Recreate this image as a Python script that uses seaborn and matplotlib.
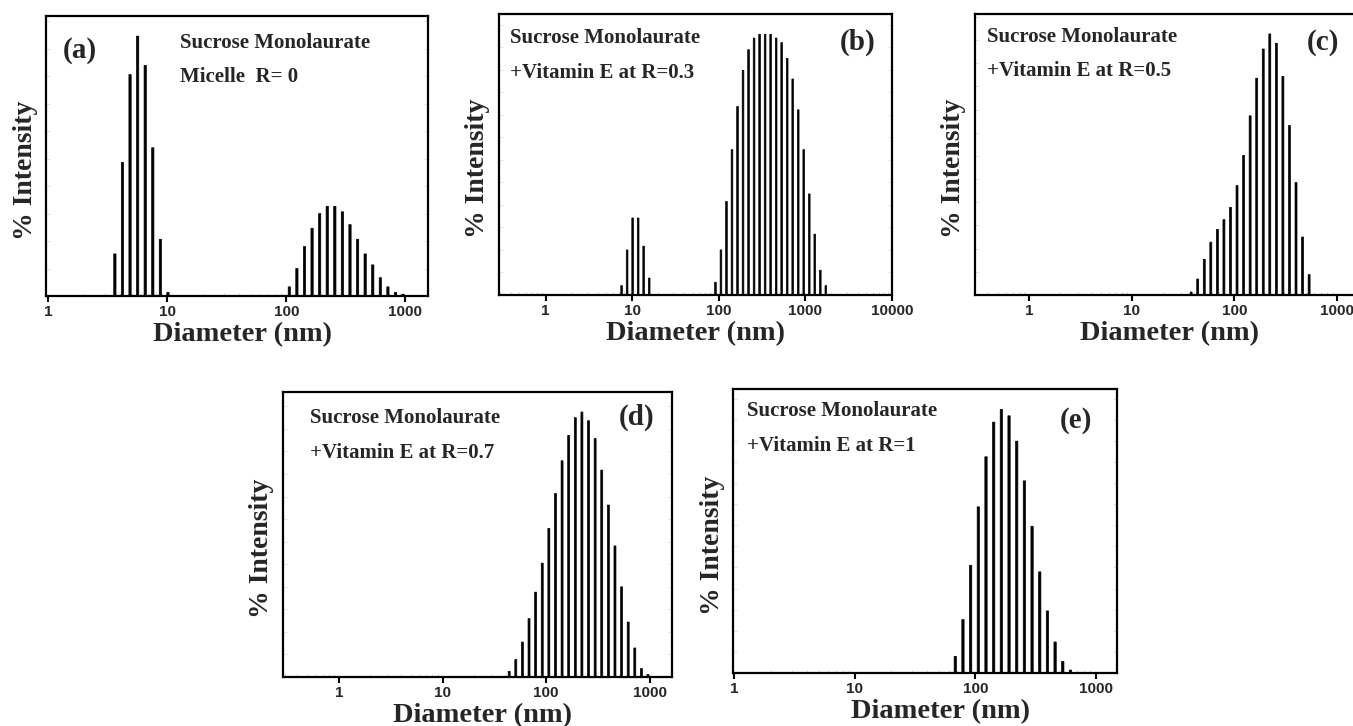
import numpy as np
import pandas as pd
import matplotlib
matplotlib.use("Agg")
import matplotlib.pyplot as plt
import matplotlib.ticker as mticker
import seaborn as sns

# ---------------- data ----------------
diam_a = [3.615, 4.187, 4.849, 5.615, 6.503, 7.531, 8.721, 10.10,
          105.7, 122.4, 141.8, 164.2, 190.1, 220.2, 255.0, 295.3, 342.0,
          396.1, 458.7, 531.2, 615.1, 712.4, 825.0, 955.4]
int_a = [2.3, 7.3, 12.1, 14.2, 12.6, 8.1, 3.1, 0.2,
         0.5, 1.5, 2.7, 3.7, 4.5, 4.9, 4.9, 4.6, 3.9,
         3.1, 2.3, 1.7, 1.0, 0.5, 0.2, 0.1]

diam_b = [7.531, 8.721, 10.10, 11.70, 13.54, 15.69,
          91.28, 105.7, 122.4, 141.8, 164.2, 190.1, 220.2, 255.0, 295.3,
          342.0, 396.1, 458.7, 531.2, 615.1, 712.4, 825.0, 955.4, 1106,
          1281, 1484, 1718]
int_b = [0.25, 1.2, 2.05, 2.05, 1.3, 0.45,
         0.34, 1.2, 2.49, 3.87, 5.02, 5.98, 6.53, 6.84, 6.94,
         6.94, 6.94, 6.84, 6.72, 6.30, 5.75, 4.93, 3.87, 2.69,
         1.62, 0.66, 0.25]

diam_c = [37.84, 43.82, 50.75, 58.77, 68.06, 78.82, 91.28, 105.7, 122.4,
          141.8, 164.2, 190.1, 220.2, 255.0, 295.3, 342.0, 396.1, 458.7,
          531.2]
int_c = [0.13, 0.69, 1.54, 2.28, 2.83, 3.25, 3.78, 4.72, 6.02,
         7.73, 9.35, 10.61, 11.26, 10.86, 9.43, 7.31, 4.85, 2.50,
         0.88]

diam_d = [43.82, 50.75, 58.77, 68.06, 78.82, 91.28, 105.7, 122.4, 141.8,
          164.2, 190.1, 220.2, 255.0, 295.3, 342.0, 396.1, 458.7, 531.2,
          615.1, 712.4, 825.0, 955.4]
int_d = [0.20, 0.62, 1.24, 2.07, 3.01, 4.04, 5.27, 6.51, 7.67,
         8.57, 9.20, 9.40, 9.09, 8.46, 7.34, 6.10, 4.65, 3.20,
         1.95, 1.03, 0.30, 0.09]

diam_e = [68.06, 78.82, 91.28, 105.7, 122.4, 141.8, 164.2, 190.1, 220.2,
          255.0, 295.3, 342.0, 396.1, 458.7, 531.2, 615.1]
int_e = [0.79, 2.53, 5.10, 7.87, 10.24, 11.88, 12.48, 12.18, 10.98,
         9.10, 6.95, 4.79, 2.94, 1.47, 0.55, 0.14]

panel_tags = ["(a)", "(b)", "(c)", "(d)", "(e)"]
line1 = ["Sucrose Monolaurate"] * 5
line2 = ["Micelle  R= 0", "+Vitamin E at R=0.3", "+Vitamin E at R=0.5",
         "+Vitamin E at R=0.7", "+Vitamin E at R=1"]
xtick_a = [1, 10, 100, 1000]
xtick_b = [1, 10, 100, 1000, 10000]
xlabel = "Diameter (nm)"
ylabel = "% Intensity"

# ---------------- layout / style ----------------
W, H = 1353, 726
sns.set_theme(style="white")
plt.rcParams["font.family"] = ["Liberation Serif", "DejaVu Serif"]
plt.rcParams["font.weight"] = "bold"

fig = plt.figure(figsize=(W / 100, H / 100), dpi=100)

# pixel rectangles: left, right, top, bottom
rects = [(46, 428, 16, 296), (499, 892, 14, 295), (975, 1365, 14, 295),
         (283, 672, 392, 677), (733, 1117, 389, 673)]
xlims = [(0.956, 1550), (0.29, 10000), (0.30, 1860), (0.29, 1630), (0.975, 1500)]
ymaxs = [15.3, 7.48, 12.12, 10.11, 13.45]
xticks = [xtick_a, xtick_b, xtick_a, xtick_a, xtick_a]
xlab_x = [0.514, 0.5, 0.5, 0.512, 0.54]
# text placement (axes fraction)
sub_xy = [(0.351, 0.886), (0.028, 0.897), (0.031, 0.90), (0.069, 0.891), (0.036, 0.905)]
sub_dy = [0.122, 0.125, 0.121, 0.123, 0.123]
tag_xy = [(0.045, 0.85, "left"), (0.957, 0.872, "right"), (0.933, 0.872, "right"),
          (0.954, 0.884, "right"), (0.935, 0.863, "right")]

datasets = [(diam_a, int_a), (diam_b, int_b), (diam_c, int_c),
            (diam_d, int_d), (diam_e, int_e)]

for i, ((d, v), (l, r, t, b)) in enumerate(zip(datasets, rects)):
    ax = fig.add_axes([l / W, (H - b) / H, (r - l) / W, (b - t) / H])
    df = pd.DataFrame({"d": d, "v": v})
    logd = np.log10(df["d"].to_numpy())
    step = np.median(np.diff(logd))
    nb = int(round((logd.max() - logd.min()) / step)) + 1
    edges = (logd.min() - step / 2 + step * np.arange(nb + 1)).tolist()
    sns.histplot(data=df, x="d", weights="v", bins=edges, log_scale=True,
                 shrink=0.3, color="black", alpha=1, linewidth=0.5,
                 edgecolor="black", element="bars", snap=False, ax=ax)
    ax.set_xscale("log")
    ax.set_xlim(*xlims[i])
    ax.set_ylim(0, ymaxs[i])
    ax.set_xticks(xticks[i])
    ax.xaxis.set_major_formatter(mticker.FuncFormatter(lambda x, p: f"{x:g}"))
    ax.xaxis.set_minor_locator(mticker.LogLocator(base=10, subs=np.arange(2, 10)))
    ax.xaxis.set_minor_formatter(mticker.NullFormatter())
    ax.yaxis.set_major_locator(mticker.MaxNLocator(14))
    ax.tick_params(axis="x", which="major", direction="out", length=4, width=1.5,
                   color="black", labelsize=11, pad=2.5, bottom=True)
    ax.tick_params(axis="x", which="minor", direction="in", length=2, width=0.6,
                   color="#c8c8c8", bottom=True)
    ax.tick_params(axis="y", which="major", direction="in", length=3, width=0.6,
                   color="#dddddd", left=True, right=True, labelleft=False)
    for lab in ax.get_xticklabels():
        lab.set_fontfamily(["Liberation Sans", "DejaVu Sans"])
        lab.set_fontweight("bold")
    for sp in ax.spines.values():
        sp.set_visible(True)
        sp.set_color("black")
        sp.set_linewidth(1.6)
    ax.set_xlabel(xlabel, fontsize=20.5, fontweight="bold")
    ax.set_ylabel(ylabel, fontsize=20, fontweight="bold")
    ax.xaxis.set_label_coords(xlab_x[i], -0.093)
    ax.yaxis.set_label_coords(-0.022, 0.45)
    ax.xaxis.label.set_va("top")
    sx, sy = sub_xy[i]
    ax.text(sx, sy, line1[i], transform=ax.transAxes, fontsize=15,
            fontweight="bold", ha="left", va="baseline")
    ax.text(sx, sy - sub_dy[i], line2[i], transform=ax.transAxes, fontsize=15,
            fontweight="bold", ha="left", va="baseline")
    tx, ty, tha = tag_xy[i]
    ax.text(tx, ty, panel_tags[i], transform=ax.transAxes, fontsize=21,
            fontweight="bold", ha=tha, va="baseline")

fig.savefig("out.png", dpi=100)
